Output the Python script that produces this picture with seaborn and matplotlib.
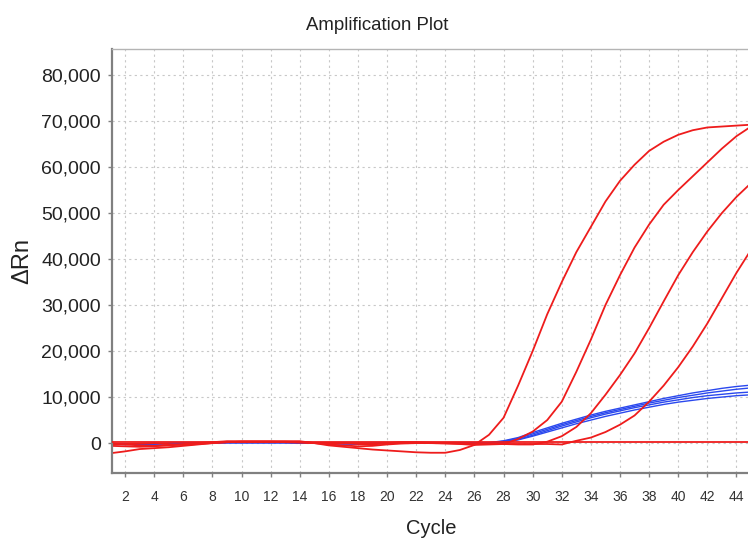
import matplotlib
matplotlib.use("Agg")
import matplotlib.pyplot as plt
import seaborn as sns
import pandas as pd

# ---------------- data ----------------
cycles = list(range(1, 46))

red_1 = [-2200, -1800, -1300, -1100, -900, -600, -300, 0, 200, 300,
         300, 300, 300, 300, 0, -500, -800, -1100, -1400, -1600,
         -1800, -2000, -2100, -2100, -1500, -400, 1800, 5500, 12500, 20000,
         28000, 35000, 41500, 47000, 52500, 57000, 60500, 63500, 65500, 67000,
         68000, 68600, 68800, 69000, 69200]
red_2 = [-600, -700, -800, -700, -400, -200, 0, 200, 400, 400,
         400, 400, 400, 400, 0, -300, -500, -700, -600, -300,
         -100, 0, 0, 0, -200, -400, -300, -200, 900, 2500,
         5000, 9000, 15500, 22500, 30000, 36500, 42500, 47500, 51800, 55000,
         58000, 61000, 64000, 66700, 68800]
red_3 = [0, -300, -500, -600, -500, -300, -100, 100, 300, 300,
         300, 300, 300, 200, 0, 0, 0, -200, -300, 0,
         200, 200, 100, 0, -100, -200, -200, -200, -300, -300,
         300, 1500, 3500, 6500, 10500, 14800, 19500, 25000, 30800, 36500,
         41500, 46000, 50000, 53500, 56500]
red_4 = [-300, -200, -100, 0, -200, -400, -200, 0, 200, 300,
         300, 300, 200, 100, 0, 0, 0, 0, -100, 0,
         100, 100, 0, -100, -100, -200, -200, -200, -200, -200,
         -200, -300, 500, 1200, 2400, 4000, 6000, 9000, 12500, 16500,
         21000, 26000, 31500, 37000, 42000]

blue_1 = [-300, -300, -300, -200, -100, 0, 0, 100, 100, 100,
          100, 100, 100, 100, 0, -100, -200, -200, -100, -100,
          0, 0, 0, 0, 0, 0, 100, 500, 1200, 2300,
          3300, 4300, 5200, 6100, 6900, 7600, 8300, 9000, 9700, 10300,
          10900, 11400, 11900, 12300, 12600]
blue_2 = [-200, -300, -200, -200, -100, 0, 0, 100, 100, 100,
          100, 100, 100, 0, 0, -100, -100, -200, -100, 0,
          0, 0, 0, 0, 0, 0, 50, 400, 1000, 2000,
          3000, 4000, 4900, 5800, 6600, 7300, 8000, 8700, 9300, 9900,
          10400, 10900, 11300, 11700, 12000]
blue_3 = [-300, -200, -200, -100, 0, 0, 100, 100, 100, 100,
          100, 100, 100, 100, 0, 0, -100, -100, -100, 0,
          0, 0, 0, 0, 0, 0, 0, 300, 800, 1700,
          2700, 3700, 4600, 5500, 6300, 7000, 7700, 8300, 8900, 9400,
          9900, 10300, 10600, 10900, 11100]
blue_4 = [-200, -200, -200, -200, -100, 0, 0, 0, 100, 100,
          100, 100, 100, 0, 0, -100, -100, -100, 0, 0,
          0, 0, 0, 0, 0, 0, 0, 200, 700, 1500,
          2400, 3300, 4200, 5000, 5800, 6500, 7200, 7800, 8400, 8900,
          9300, 9700, 10000, 10300, 10500]

threshold = 300
x_ticks = list(range(2, 46, 2))
y_ticks = [0, 10000, 20000, 30000, 40000, 50000, 60000, 70000, 80000]
title = "Amplification Plot"
x_label = "Cycle"
y_label = "\u0394Rn"

# ---------------- build table ----------------
series = {"B1": blue_1, "B2": blue_2, "B3": blue_3, "B4": blue_4,
          "R1": red_1, "R2": red_2, "R3": red_3, "R4": red_4}
rows = []
for name, vals in series.items():
    for c, v in zip(cycles, vals):
        rows.append({"cycle": c, "dRn": v, "well": name})
df = pd.DataFrame(rows)

RED = "#ee1c1c"
BLUE = "#2a48ee"
palette = {k: (BLUE if k.startswith("B") else RED) for k in series}

sns.set_theme(style="white")
plt.rcParams["font.family"] = ["Liberation Sans", "DejaVu Sans"]

fig = plt.figure(figsize=(7.48, 5.41), dpi=100)
ax = fig.add_axes([112 / 748, (541 - 473) / 541, (751 - 112) / 748, (473 - 49) / 541])

blue_df = df[df["well"].str.startswith("B")]
red_df = df[df["well"].str.startswith("R")]
sns.lineplot(data=blue_df, x="cycle", y="dRn", hue="well", palette=palette,
             estimator=None, sort=False, legend=False, linewidth=1.0, ax=ax)
ax.axhline(threshold, color=RED, linewidth=1.3, zorder=3)
sns.lineplot(data=red_df, x="cycle", y="dRn", hue="well", palette=palette,
             estimator=None, sort=False, legend=False, linewidth=1.3, ax=ax)

ax.set_xlim(1.1, 45)
ax.set_ylim(-6500, 85650)
ax.set_xticks(x_ticks)
ax.set_yticks(y_ticks)
ax.set_yticklabels([f"{v:,}" for v in y_ticks], fontsize=14, color="#222222")
ax.set_xticklabels([str(v) for v in x_ticks], fontsize=10, color="#333333")

ax.grid(True, color="#c8c8c8", linestyle=(0, (2, 3)), linewidth=0.8)
ax.set_axisbelow(True)

for s in ["left", "bottom"]:
    ax.spines[s].set_color("#808080")
    ax.spines[s].set_linewidth(1.6)
ax.spines["top"].set_color("#b4b4b4")
ax.spines["top"].set_linewidth(1.0)
ax.spines["right"].set_visible(False)

ax.tick_params(axis="y", which="both", direction="out", length=3,
               color="#808080", width=1.0, left=True, pad=5)
ax.tick_params(axis="x", which="both", direction="out", length=3,
               color="#808080", width=1.0, bottom=True, pad=9)

ax.set_xlabel(x_label, fontsize=14.5, color="#222222", labelpad=11)
ax.set_ylabel(y_label, fontsize=17, color="#222222", labelpad=6)
fig.text(377 / 748, 1 - 25 / 541, title, ha="center", va="center",
         fontsize=13.4, color="#222222",
         family=["Liberation Sans Narrow", "Liberation Sans", "DejaVu Sans"])

fig.savefig("out.png", dpi=100)
